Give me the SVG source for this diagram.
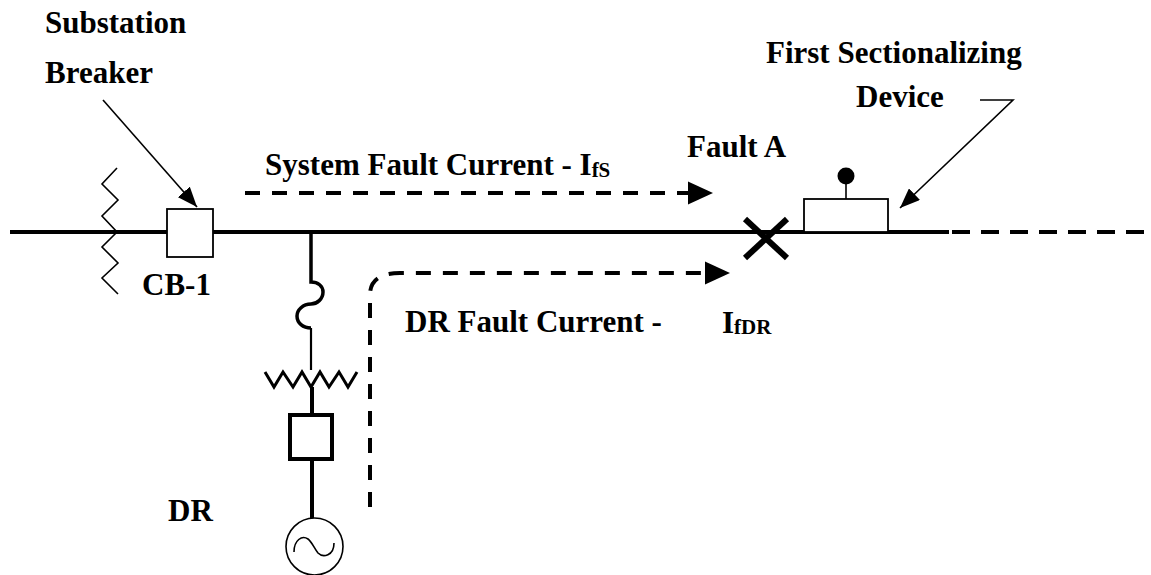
<svg xmlns="http://www.w3.org/2000/svg" width="1151" height="575" viewBox="0 0 1151 575">
<style>
.t{font-family:"Liberation Serif","Times New Roman",serif;font-weight:bold;font-size:31px;fill:#000}
.s{font-size:21px}
.thin{fill:none;stroke:#000;stroke-width:1.6}
.thick{fill:none;stroke:#000;stroke-width:4}
.dash{fill:none;stroke:#000;stroke-width:4;stroke-dasharray:15 12}
</style>
<defs>
<marker id="ah" markerWidth="10" markerHeight="10" refX="9" refY="5" orient="auto" markerUnits="userSpaceOnUse" viewBox="0 0 10 10">
<path d="M0,0 L10,5 L0,10 Z" fill="#000"/>
</marker>
<marker id="ahs" viewBox="0 0 20 16" refX="20" refY="8" markerWidth="20" markerHeight="16" orient="auto" markerUnits="userSpaceOnUse">
<path d="M0,0 L20,8 L0,16 Z" fill="#000"/>
</marker>
</defs>
<rect width="1151" height="575" fill="#fff"/>

<g id="main-line">
<line x1="10" y1="232" x2="949" y2="232" class="thick"/>
<line x1="952" y1="232" x2="1151" y2="232" class="thick" style="stroke-dasharray:18 11"/>
</g>

<g id="source-impedance">
<polyline class="thin" points="117,168 102,184 118,200 102,216 117,232 102,247 118,263 102,278 118,294"/>
</g>

<g id="cb1">
<rect x="167" y="209" width="46" height="48" fill="#fff" stroke="#000" stroke-width="1.8"/>
<text class="t" x="142" y="295">CB-1</text>
</g>

<g id="substation-label">
<text class="t" x="45" y="33">Substation</text>
<text class="t" x="45" y="83">Breaker</text>
</g>

<g id="dr-branch">
<path class="thick" d="M311,232 V282 C318,282 323,286 323,292 C323,299 317,304 311,304 C303,304 297,310 297,316 C297,323 303,328 311,328" style="stroke-width:3.5"/>
<line x1="311" y1="328" x2="311" y2="370" stroke="#000" stroke-width="2.2"/>
<polyline class="thin" style="stroke-width:3" points="265,372 274,387 283,372 293,387 302,372 311,387 320,372 329,387 339,372 348,387 357,372"/>
<line x1="312" y1="387" x2="312" y2="415" class="thick"/>
<rect x="290" y="415" width="42" height="44" fill="#fff" stroke="#000" stroke-width="4"/>
<line x1="312" y1="459" x2="312" y2="518" class="thick"/>
</g>

<g id="dr-generator">
<circle cx="314.5" cy="546.5" r="28.5" fill="#fff" stroke="#000" stroke-width="1.6"/>
<path class="thin" d="M294,552 C294,540 302,535 308,539 C312,542 314,548 318,553 C323,558 334,556 334,543"/>
<text class="t" x="168" y="521">DR</text>
</g>

<g id="fault-a">
<line x1="745" y1="219" x2="787" y2="258" stroke="#000" stroke-width="6"/>
<line x1="787" y1="219" x2="745" y2="258" stroke="#000" stroke-width="6"/>
<text class="t" x="687" y="157">Fault A</text>
</g>

<g id="sectionalizing-device">
<rect x="804" y="199" width="84" height="33" fill="#fff" stroke="#000" stroke-width="1.8"/>
<line x1="846" y1="199" x2="846" y2="180" class="thin"/>
<circle cx="846" cy="176" r="8.5" fill="#000"/>
<text class="t" x="766" y="63">First Sectionalizing</text>
<text class="t" x="856" y="107">Device</text>
</g>

<g id="current-labels">
<text class="t" x="265" y="175">System Fault Current - I<tspan class="s" dy="2">fS</tspan></text>
<text class="t" x="405" y="332">DR Fault Current -</text>
<text class="t" x="722" y="333">I<tspan class="s" dy="1">fDR</tspan></text>
</g>

<g id="connectors">
<line x1="103" y1="100" x2="197" y2="207" stroke="#000" stroke-width="1.6" marker-end="url(#ahs)"/>
<polyline points="980,100 1013,100 900,208" fill="none" stroke="#000" stroke-width="1.6" marker-end="url(#ahs)"/>
<line x1="245" y1="193" x2="690" y2="193" class="dash"/>
<path d="M688,181.5 L713,193 L688,204.5 Z" fill="#000"/>
<path class="dash" d="M370,507 V295 Q370,273 400,273 H706" style="stroke-dasharray:15 12"/>
<path d="M705,261.5 L730,273 L705,284.5 Z" fill="#000"/>
</g>
</svg>
